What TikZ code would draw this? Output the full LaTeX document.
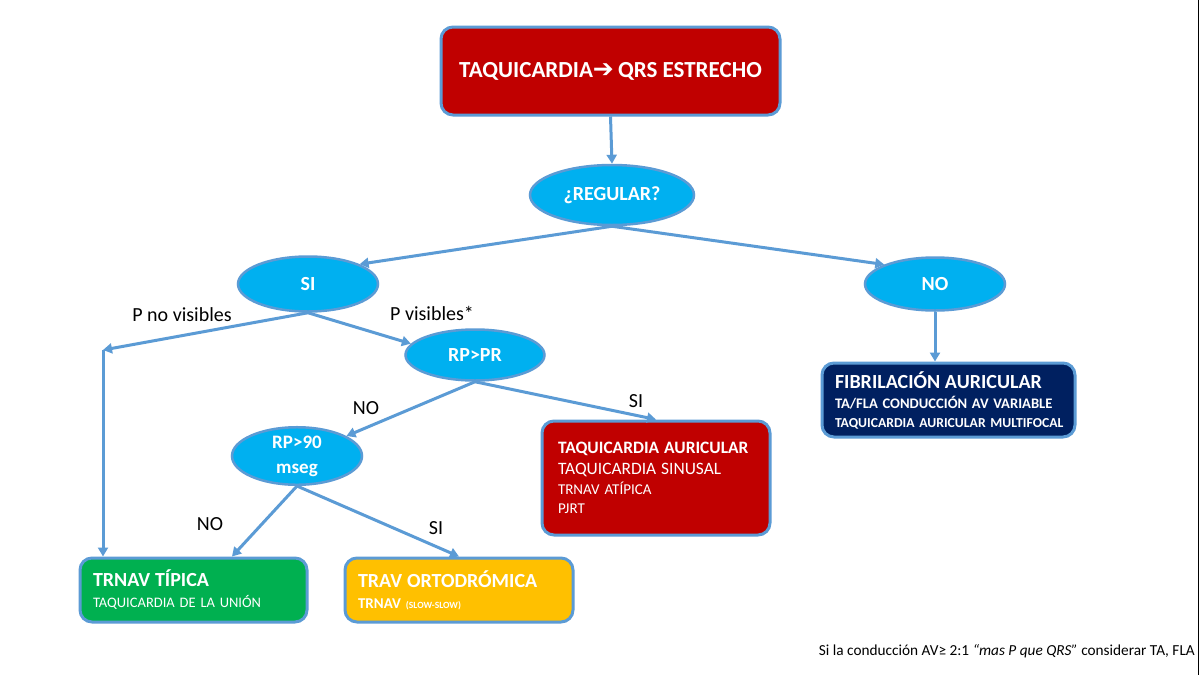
\documentclass[tikz,border=0pt]{standalone}
\usepackage{fontspec}
\setmainfont{Carlito}
\newfontfamily\djv{DejaVu Sans}
\usetikzlibrary{arrows.meta,shapes.geometric,calc}
\definecolor{lineblue}{HTML}{5B9BD5}
\definecolor{ovalblue}{HTML}{00B0F0}
\definecolor{redc}{HTML}{C00000}
\definecolor{navyc}{HTML}{002060}
\definecolor{greenc}{HTML}{00B050}
\definecolor{yellowc}{HTML}{FFC000}
\begin{document}
\begin{tikzpicture}[x=1pt,y=-1pt,
  conn/.style={draw=lineblue,line width=3pt,-{Triangle[length=9pt,width=10pt]}},
  oval/.style={ellipse,draw=lineblue,line width=2.5pt,fill=ovalblue,text=white,
    font=\bfseries\fontsize{20}{23}\selectfont,inner sep=0pt,align=center},
  box/.style={rectangle,rounded corners=12pt,draw=lineblue,line width=3pt,
    text=white,inner ysep=0pt,align=left},
  lbl/.style={font=\fontsize{20}{23}\selectfont,text=black,inner sep=0pt}]
\useasboundingbox (0,0) rectangle (1200,675);
\fill[white] (0,0) rectangle (1200,675);
\draw[black,line width=1.5pt] (1198.5,0) -- (1198.5,675);

% nodes
\node[box,fill=redc,minimum width=339pt,minimum height=88pt,align=center,
  font=\bfseries\fontsize{23}{26}\selectfont] (title) at (610.5,71)
  {TAQUICARDIA{\djv\bfseries\fontsize{25}{26}\selectfont ➔}\hspace{-1pt} QRS ESTRECHO};
\node[oval,minimum width=164pt,minimum height=60pt]
  (reg) at (612,195) {¿REGULAR?};
\node[oval,minimum width=140pt,minimum height=55pt] (si) at (308,284) {SI};
\node[oval,minimum width=140pt,minimum height=53pt] (no) at (935,284) {NO};
\node[oval,minimum width=139pt,minimum height=51pt] (rppr) at (475,355) {RP>PR};
\node[oval,minimum width=130pt,minimum height=55pt,font=\bfseries\fontsize{19}{25}\selectfont]
  (rp90) at (297,456) {RP>90\\mseg};

\node[box,fill=navyc,minimum height=74pt,inner xsep=13pt,text width=227pt,
  font=\fontsize{14}{18.5}\selectfont]
  (fib) at (948.5,400)
  {\mbox{\bfseries\fontsize{20}{22}\selectfont FIBRILACIÓN AURICULAR}\\[2pt]
   \mbox{\bfseries\fontsize{14.6}{18}\selectfont TA/FLA CONDUCCIÓN AV VARIABLE}\\
   \mbox{\bfseries\fontsize{13.7}{18}\selectfont TAQUICARDIA AURICULAR MULTIFOCAL}};

\node[box,fill=redc,minimum height=114pt,inner xsep=16pt,text width=196pt,
  font=\fontsize{15}{19}\selectfont]
  (red2) at (656,478)
  {\mbox{\bfseries\fontsize{17.4}{19}\selectfont TAQUICARDIA AURICULAR}\\[2pt]
   \mbox{\fontsize{17.4}{19}\selectfont TAQUICARDIA SINUSAL}\\[1pt]
   \mbox{TRNAV ATÍPICA}\\
   \mbox{PJRT}};

\node[box,fill=greenc,minimum height=64pt,inner xsep=13pt,text width=201pt,
  font=\fontsize{14.5}{19}\selectfont]
  (green) at (193.5,590)
  {\mbox{\bfseries\fontsize{20}{22}\selectfont TRNAV TÍPICA}\\[2pt]
   \mbox{TAQUICARDIA DE LA UNIÓN}};

\node[box,fill=yellowc,minimum height=64pt,inner xsep=13pt,text width=202pt,
  font=\fontsize{15}{19}\selectfont]
  (yellow) at (459,590)
  {\mbox{\bfseries\fontsize{20}{22}\selectfont TRAV ORTODRÓMICA}\\[2pt]
   \mbox{\bfseries TRNAV {\fontsize{9.5}{10}\selectfont (SLOW-SLOW)}}};

% labels
\node[lbl] (lpno) at (182,315) {P no visibles};
\node[lbl] (lpsi) at (432,313) {P visibles*};
\node[lbl] (lno1) at (366,408) {NO};
\node[lbl] (lsi1) at (636,401) {SI};
\node[lbl] (lno2) at (210,524) {NO};
\node[lbl] (lsi2) at (436,528) {SI};
\node[font=\fontsize{15.3}{18}\selectfont,anchor=east,inner sep=0pt] (foot) at (1195,651)
  {Si la conducción AV≥ 2:1 \textit{“mas P que QRS”} considerar TA, FLA};

% connectors
\coordinate (c1) at (103,350);
\draw[conn] (title.south) -- (reg.north);
\draw[conn] (reg.south) -- (si.21);
\draw[conn] (reg.south) -- (no.159);
\draw[conn] (no.south) -- (fib.north -| no.south);
\draw[conn] (si.south) -- (c1);
\draw[conn] (c1) -- (c1 |- green.north);
\draw[conn] (si.south) -- (rppr.170);
\draw[conn] (rppr.south) -- (rp90.22);
\draw[conn] (rppr.south) -- (red2.north);
\draw[conn] (rp90.south) -- ($(green.north)+(38.5,0)$);
\draw[conn] (rp90.south) -- (yellow.north);
\end{tikzpicture}
\end{document}
